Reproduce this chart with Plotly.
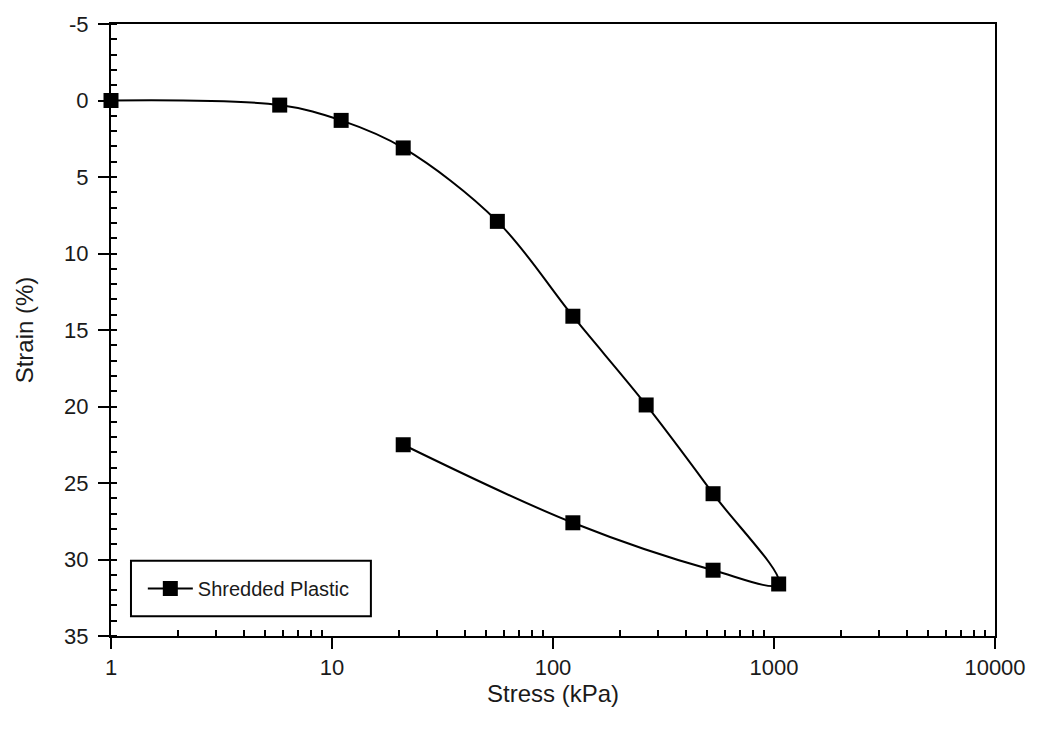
import plotly.graph_objects as go

# Oedometer loading / unloading path for shredded plastic
stress_kpa = [1, 5.8, 11, 21, 56, 123, 264, 530, 1050, 530, 123, 21]
strain_pct = [0.0, 0.3, 1.3, 3.1, 7.9, 14.1, 19.9, 25.7, 31.6, 30.7, 27.6, 22.5]

x_tick_vals = [1, 10, 100, 1000, 10000]
x_tick_text = ["1", "10", "100", "1000", "10000"]
y_tick_vals = [-5, 0, 5, 10, 15, 20, 25, 30, 35]
y_tick_text = ["-5", "0", "5", "10", "15", "20", "25", "30", "35"]

x_minor = [m * 10 ** d for d in range(4) for m in range(2, 10)]

font_family = "Liberation Sans, Arial, sans-serif"
text_color = "#1a1a1a"

fig = go.Figure()
fig.add_trace(go.Scatter(
    x=stress_kpa,
    y=strain_pct,
    mode="lines+markers",
    name="Shredded Plastic",
    line=dict(color="black", width=2, shape="spline", smoothing=1),
    marker=dict(symbol="square", size=15, color="black"),
    cliponaxis=False,
))

# framed box behind the legend entry
fig.add_shape(
    type="rect", xref="paper", yref="paper",
    x0=0.0226, x1=0.294, y0=0.0324, y1=0.123,
    line=dict(color="black", width=2), fillcolor="white", layer="above",
)

fig.update_layout(
    width=1039,
    height=745,
    margin=dict(l=111, r=44, t=18, b=109),
    paper_bgcolor="white",
    plot_bgcolor="white",
    font=dict(family=font_family, color=text_color, size=22),
    showlegend=True,
    legend=dict(
        x=0.036, y=0.0777, xanchor="left", yanchor="middle",
        bgcolor="rgba(0,0,0,0)", borderwidth=0,
        font=dict(size=20, color=text_color),
        itemwidth=45,
    ),
    xaxis=dict(
        type="log",
        range=[0, 4],
        tickvals=x_tick_vals,
        ticktext=x_tick_text,
        ticks="outside", ticklen=11, tickwidth=2, tickcolor="black",
        minor=dict(tickvals=x_minor, ticks="inside", ticklen=6, tickwidth=2, tickcolor="black"),
        showline=True, linecolor="black", linewidth=2, mirror=True,
        showgrid=False, zeroline=False,
        tickfont=dict(size=22),
        title=dict(text="Stress (kPa)", font=dict(size=24), standoff=6),
    ),
    yaxis=dict(
        range=[35, -5],
        tickvals=y_tick_vals,
        ticktext=y_tick_text,
        ticks="outside", ticklen=11, tickwidth=2, tickcolor="black",
        minor=dict(dtick=1, ticks="inside", ticklen=6, tickwidth=2, tickcolor="black"),
        showline=True, linecolor="black", linewidth=2, mirror=True,
        showgrid=False, zeroline=False,
        tickfont=dict(size=22),
        ticklabelstandoff=5,
        title=dict(text="Strain (%)", font=dict(size=24), standoff=24),
    ),
)

fig.write_html("out.html")
